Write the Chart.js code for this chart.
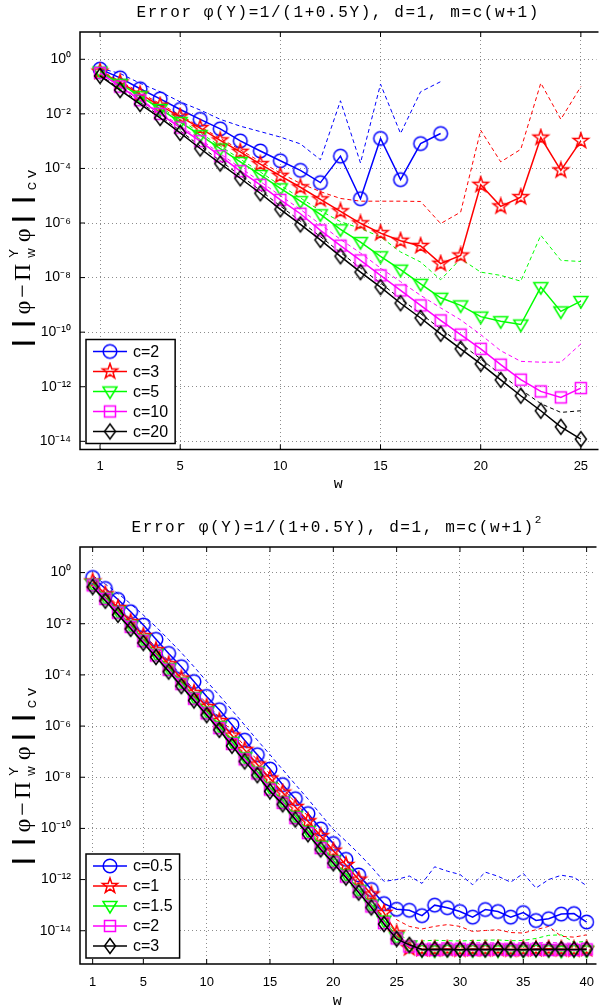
<!DOCTYPE html>
<html>
<head>
<meta charset="utf-8">
<script src="https://cdn.jsdelivr.net/npm/chart.js@4.4.1/dist/chart.umd.min.js"></script>
<style>
  html, body { margin: 0; padding: 0; background: #fff; overflow: hidden; }
  #topBox { position: absolute; left: 0; top: 0; }
  #bottomBox { position: absolute; left: 0; top: 505px; }
</style>
</head>
<body>
<div id="topBox"><canvas id="chartTop" width="605" height="505"></canvas></div>
<div id="bottomBox"><canvas id="chartBottom" width="605" height="505"></canvas></div>
<script>
// values are log10 of the error (y axis shows 10^k)
var wTop = [1,2,3,4,5,6,7,8,9,10,11,12,13,14,15,16,17,18,19,20,21,22,23,24,25];
var wBottom = [1,2,3,4,5,6,7,8,9,10,11,12,13,14,15,16,17,18,19,20,
               21,22,23,24,25,26,27,28,29,30,31,32,33,34,35,36,37,38,39,40];
var xTicksTop = [1,5,10,15,20,25];
var xTicksBottom = [1,5,10,15,20,25,30,35,40];
var yTickExps = [0,-2,-4,-6,-8,-10,-12,-14];

var labelsTop = ['c=2','c=3','c=5','c=10','c=20'];
var labelsBottom = ['c=0.5','c=1','c=1.5','c=2','c=3'];

// m = c(w+1), solid lines with markers
var topC2  = [-0.36,-0.68,-1.08,-1.45,-1.84,-2.20,-2.55,-2.99,-3.36,-3.72,-4.07,-4.52,-3.55,-5.11,-2.90,-4.41,-3.09,-2.72];
var topC3  = [-0.45,-0.85,-1.28,-1.70,-2.10,-2.52,-2.97,-3.39,-3.84,-4.27,-4.69,-5.13,-5.57,-6.01,-6.37,-6.65,-6.84,-7.49,-7.19,-4.60,-5.39,-5.05,-2.87,-4.07,-2.99];
var topC5  = [-0.45,-0.90,-1.35,-1.82,-2.30,-2.78,-3.27,-3.76,-4.24,-4.73,-5.20,-5.68,-6.23,-6.70,-7.22,-7.71,-8.23,-8.74,-9.02,-9.43,-9.60,-9.72,-8.35,-9.24,-8.86];
var topC10 = [-0.50,-1.00,-1.50,-2.00,-2.50,-3.00,-3.55,-4.10,-4.60,-5.15,-5.66,-6.27,-6.83,-7.37,-7.92,-8.47,-9.02,-9.57,-10.09,-10.61,-11.19,-11.74,-12.17,-12.39,-12.05];
var topC20 = [-0.61,-1.13,-1.64,-2.15,-2.70,-3.27,-3.82,-4.36,-4.91,-5.50,-6.05,-6.62,-7.22,-7.80,-8.35,-8.94,-9.48,-10.06,-10.61,-11.16,-11.75,-12.33,-12.88,-13.47,-13.92];
// dashed companions
var topC2Bound  = [-0.33,-0.52,-0.88,-1.19,-1.56,-1.86,-2.20,-2.45,-2.65,-2.85,-3.10,-3.68,-1.52,-3.80,-0.91,-2.72,-1.19,-0.82];
var topC3Bound  = [-0.40,-0.80,-1.22,-1.63,-2.05,-2.47,-2.90,-3.32,-3.75,-4.17,-4.55,-4.85,-5.10,-5.20,-5.20,-5.20,-5.21,-6.02,-5.60,-2.60,-3.76,-3.30,-0.87,-2.20,-1.00];
var topC5Bound  = [-0.42,-0.85,-1.30,-1.75,-2.22,-2.70,-3.18,-3.66,-4.13,-4.62,-5.08,-5.55,-5.95,-6.20,-6.51,-7.06,-7.43,-8.08,-7.31,-7.80,-7.92,-8.13,-6.45,-7.37,-7.41];
var topC10Bound = [-0.48,-0.97,-1.46,-1.95,-2.44,-2.93,-3.46,-3.98,-4.48,-5.00,-5.50,-6.05,-6.60,-7.10,-7.65,-8.15,-8.65,-9.11,-9.55,-10.09,-10.68,-11.07,-11.10,-11.10,-10.43];
var topC20Bound = [-0.58,-1.08,-1.58,-2.08,-2.62,-3.18,-3.72,-4.26,-4.80,-5.38,-5.93,-6.50,-7.08,-7.65,-8.20,-8.78,-9.32,-9.88,-10.42,-10.98,-11.55,-12.10,-12.62,-12.94,-12.88];

// m = c(w+1)^2
var botC05 = [-0.19,-0.62,-1.05,-1.53,-2.05,-2.61,-3.16,-3.68,-4.26,-4.84,-5.36,-5.95,-6.55,-7.12,-7.68,-8.29,-8.84,-9.42,-10.02,-10.59,
              -11.21,-11.82,-12.39,-12.94,-13.16,-13.20,-13.41,-13.00,-13.10,-13.25,-13.47,-13.17,-13.25,-13.47,-13.29,-13.60,-13.53,-13.35,-13.33,-13.66];
var botC1  = [-0.35,-0.85,-1.38,-1.93,-2.48,-3.03,-3.58,-4.14,-4.70,-5.25,-5.80,-6.37,-6.93,-7.50,-8.05,-8.60,-9.16,-9.72,-10.30,-10.87,
              -11.43,-12.00,-12.58,-13.30,-14.10,-14.68,-14.71,-14.72,-14.70,-14.73,-14.71,-14.72,-14.70,-14.73,-14.72,-14.71,-14.70,-14.72,-14.73,-14.71];
var botC15 = [-0.45,-0.98,-1.52,-2.07,-2.62,-3.18,-3.74,-4.30,-4.87,-5.43,-6.00,-6.62,-7.22,-7.78,-8.40,-8.95,-9.52,-10.10,-10.68,-11.25,
              -11.80,-12.40,-12.98,-13.60,-14.25,-14.60,-14.76,-14.77,-14.75,-14.77,-14.76,-14.75,-14.77,-14.76,-14.77,-14.75,-14.76,-14.78,-14.76,-14.77];
var botC2  = [-0.50,-1.03,-1.57,-2.12,-2.68,-3.24,-3.80,-4.36,-4.93,-5.50,-6.08,-6.70,-7.30,-7.85,-8.48,-9.00,-9.60,-10.18,-10.77,-11.32,
              -11.88,-12.47,-13.05,-13.70,-14.30,-14.62,-14.74,-14.75,-14.73,-14.74,-14.75,-14.74,-14.73,-14.75,-14.74,-14.73,-14.75,-14.74,-14.75,-14.73];
var botC3  = [-0.56,-1.10,-1.65,-2.20,-2.75,-3.30,-3.87,-4.44,-5.00,-5.57,-6.15,-6.77,-7.38,-7.92,-8.55,-9.06,-9.65,-10.23,-10.82,-11.36,
              -11.92,-12.51,-13.09,-13.74,-14.32,-14.55,-14.73,-14.72,-14.73,-14.74,-14.72,-14.73,-14.72,-14.73,-14.74,-14.72,-14.73,-14.72,-14.73,-14.72];
var botC05Bound = [-0.12,-0.45,-0.82,-1.22,-1.66,-2.12,-2.62,-3.13,-3.68,-4.25,-4.80,-5.38,-5.96,-6.55,-7.12,-7.70,-8.28,-8.85,-9.45,-10.04,
                   -10.50,-10.98,-11.50,-12.07,-12.00,-11.86,-12.15,-11.50,-11.67,-11.80,-12.20,-11.71,-11.87,-12.10,-11.76,-12.33,-12.00,-11.83,-11.91,-12.24];
var botC1Bound  = [-0.30,-0.78,-1.30,-1.84,-2.38,-2.93,-3.47,-4.02,-4.57,-5.12,-5.66,-6.22,-6.78,-7.33,-7.88,-8.43,-8.98,-9.53,-10.10,-10.66,
                   -11.22,-11.78,-12.35,-12.95,-13.57,-13.83,-13.93,-13.83,-13.76,-13.83,-14.03,-13.99,-13.96,-14.07,-14.09,-13.96,-13.83,-14.22,-14.25,-14.16];
var botC15Bound = [-0.40,-0.92,-1.46,-2.01,-2.56,-3.12,-3.68,-4.24,-4.81,-5.37,-5.94,-6.55,-7.15,-7.72,-8.33,-8.88,-9.45,-10.03,-10.61,-11.18,
                   -11.73,-12.32,-12.90,-13.50,-14.10,-14.38,-14.40,-14.37,-14.39,-14.40,-14.38,-14.37,-14.36,-14.39,-14.38,-14.30,-14.18,-14.16,-14.45,-14.42];
var botC2Bound  = [-0.46,-0.98,-1.52,-2.07,-2.62,-3.18,-3.74,-4.30,-4.86,-5.43,-6.01,-6.62,-7.22,-7.78,-8.40,-8.93,-9.52,-10.10,-10.69,-11.24,
                   -11.80,-12.38,-12.95,-13.58,-14.20,-14.47,-14.49,-14.48,-14.47,-14.49,-14.48,-14.47,-14.48,-14.49,-14.47,-14.48,-14.46,-14.48,-14.49,-14.48];
var botC3Bound  = [-0.52,-1.06,-1.60,-2.15,-2.70,-3.25,-3.82,-4.38,-4.94,-5.51,-6.09,-6.70,-7.31,-7.86,-8.48,-9.00,-9.58,-10.16,-10.75,-11.29,
                   -11.85,-12.44,-13.02,-13.65,-14.22,-14.52,-14.57,-14.58,-14.57,-14.58,-14.57,-14.58,-14.57,-14.58,-14.57,-14.58,-14.57,-14.58,-14.57,-14.58];

var colors = ['#0000ff', '#ff0000', '#00ff00', '#ff00ff', '#000000'];
var shapes = ['circle', 'star', 'triangleDown', 'square', 'diamond'];

// small canvases used as point styles (matlab-like open markers)
function makeMarker(shape, color) {
  var s = 20, m = s / 2;
  var c = document.createElement('canvas');
  c.width = s; c.height = s;
  var g = c.getContext('2d');
  g.strokeStyle = color;
  g.lineWidth = 1.5;
  g.beginPath();
  if (shape == 'circle') {
    g.arc(m, m, 6.8, 0, Math.PI * 2);
  } else if (shape == 'square') {
    g.rect(m - 5.5, m - 5.5, 11, 11);
  } else if (shape == 'diamond') {
    g.moveTo(m, m - 7.5); g.lineTo(m + 5.5, m); g.lineTo(m, m + 7.5); g.lineTo(m - 5.5, m);
    g.closePath();
  } else if (shape == 'triangleDown') {
    g.moveTo(m - 7, m - 4.5); g.lineTo(m + 7, m - 4.5); g.lineTo(m, m + 7);
    g.closePath();
  } else if (shape == 'star') {
    for (var k = 0; k < 10; k++) {
      var a = -Math.PI / 2 + k * Math.PI / 5;
      var r = k % 2 ? 3.2 : 8;
      if (k == 0) g.moveTo(m + r * Math.cos(a), m + r * Math.sin(a));
      else g.lineTo(m + r * Math.cos(a), m + r * Math.sin(a));
    }
    g.closePath();
  }
  g.stroke();
  return c;
}
var markers = shapes.map(function (sh, i) { return makeMarker(sh, colors[i]); });

var SUP = {'0':'⁰','1':'¹','2':'²','3':'³','4':'⁴','5':'⁵','6':'⁶','7':'⁷','8':'⁸','9':'⁹','-':'⁻'};
function tenTo(e) {
  return '10' + String(e).split('').map(function (ch) { return SUP[ch]; }).join('');
}

function points(ws, vals) {
  var out = [];
  for (var i = 0; i < vals.length; i++) out.push({x: ws[i], y: vals[i]});
  return out;
}

function drawNormLabel(ctx, x, y) {
  var segs = [
    {t: '| |', f: 'bold 24px "Liberation Sans"', dy: 0},
    {t: 'φ−Π', f: '24px "Liberation Serif"', dy: 0},
    {t: 'Y', f: '13px "Liberation Sans"', dy: -12, t2: 'w', dy2: 5},
    {t: 'φ', f: '24px "Liberation Serif"', dy: 0},
    {t: '| |', f: 'bold 24px "Liberation Sans"', dy: 0},
    {t: 'cv', f: '15px "Liberation Mono"', dy: 6}
  ];
  ctx.save();
  ctx.translate(x, y);
  ctx.rotate(-Math.PI / 2);
  ctx.fillStyle = '#000';
  ctx.textBaseline = 'alphabetic';
  ctx.textAlign = 'left';
  ctx.letterSpacing = '3px';
  var total = 0;
  segs.forEach(function (s) {
    ctx.font = s.f;
    s.w = ctx.measureText(s.t).width;
    if (s.t2) s.w = Math.max(s.w, ctx.measureText(s.t2).width);
    s.w += 3;
    total += s.w;
  });
  var cx = -total / 2;
  segs.forEach(function (s) {
    ctx.font = s.f;
    ctx.fillText(s.t, cx, s.dy);
    if (s.t2) ctx.fillText(s.t2, cx, s.dy2);
    cx += s.w;
  });
  ctx.restore();
}

var decor = {
  id: 'decor',
  afterDraw: function (chart, args, o) {
    var ctx = chart.ctx, a = chart.chartArea;
    var xs = chart.scales.x, ys = chart.scales.y;
    ctx.save();
    // frame
    ctx.strokeStyle = '#000';
    ctx.lineWidth = 1.5;
    ctx.beginPath();
    ctx.moveTo(a.right + 2, a.top); ctx.lineTo(a.left, a.top);
    ctx.lineTo(a.left, a.bottom); ctx.lineTo(a.right + 2, a.bottom);
    ctx.stroke();
    // inner tick marks
    ctx.lineWidth = 1;
    ctx.beginPath();
    o.xTicks.forEach(function (v) {
      var px = xs.getPixelForValue(v);
      ctx.moveTo(px, a.bottom); ctx.lineTo(px, a.bottom - 5);
      ctx.moveTo(px, a.top); ctx.lineTo(px, a.top + 5);
    });
    yTickExps.forEach(function (v) {
      var py = ys.getPixelForValue(v);
      ctx.moveTo(a.left, py); ctx.lineTo(a.left + 5, py);
    });
    ctx.stroke();

    // title (courier-like, wide)
    ctx.fillStyle = '#000';
    ctx.font = '16px "Liberation Mono"';
    ctx.letterSpacing = '1.6px';
    ctx.textBaseline = 'middle';
    ctx.textAlign = 'left';
    var tw = ctx.measureText(o.title).width;
    var supW = 0;
    if (o.titleSup) { ctx.font = '11px "Liberation Mono"'; supW = ctx.measureText(o.titleSup).width; }
    var tx = (a.left + a.right) / 2 - (tw + supW) / 2;
    ctx.font = '16px "Liberation Mono"';
    ctx.fillText(o.title, tx, o.titleY);
    if (o.titleSup) {
      ctx.font = '11px "Liberation Mono"';
      ctx.fillText(o.titleSup, tx + tw, o.titleY - 8);
    }
    ctx.letterSpacing = '0px';

    drawNormLabel(ctx, 30, o.yLabelY);

    // legend box, bottom-left inside the axes
    var items = chart.data.datasets.filter(function (d) { return d.label; });
    ctx.font = '16px "Liberation Sans"';
    var maxT = 0;
    items.forEach(function (d) { maxT = Math.max(maxT, ctx.measureText(d.label).width); });
    var rowH = 20;
    var bw = 8 + 34 + 6 + maxT + 6;
    var bh = items.length * rowH + 4;
    var bx = a.left + 6, by = a.bottom - 6 - bh;
    ctx.fillStyle = '#fff';
    ctx.fillRect(bx, by, bw, bh);
    ctx.strokeStyle = '#000';
    ctx.lineWidth = 1.5;
    ctx.strokeRect(bx, by, bw, bh);
    items.forEach(function (d, i) {
      var cy = by + 2 + rowH * i + rowH / 2;
      ctx.strokeStyle = d.borderColor;
      ctx.lineWidth = 1.5;
      ctx.beginPath();
      ctx.moveTo(bx + 7, cy); ctx.lineTo(bx + 41, cy);
      ctx.stroke();
      var img = d.pointStyle;
      ctx.drawImage(img, bx + 24 - img.width / 2, cy - img.height / 2);
      ctx.fillStyle = '#000';
      ctx.textBaseline = 'middle';
      ctx.fillText(d.label, bx + 47, cy + 1);
    });
    ctx.restore();
  }
};

function buildChart(id, p) {
  var datasets = [];
  p.series.forEach(function (vals, i) {
    datasets.push({
      label: p.labels[i],
      data: points(p.w, vals),
      borderColor: colors[i],
      borderWidth: 1.5,
      pointStyle: markers[i],
      pointRadius: 7,
      pointHoverRadius: 7,
      fill: false,
      tension: 0,
      order: 5 - i
    });
  });
  p.bounds.forEach(function (vals, i) {
    datasets.push({
      label: '',
      data: points(p.w, vals),
      borderColor: colors[i],
      borderWidth: 1,
      borderDash: [4, 3],
      pointRadius: 0,
      fill: false,
      tension: 0,
      order: 10
    });
  });

  return new Chart(document.getElementById(id), {
    type: 'line',
    data: { datasets: datasets },
    plugins: [decor],
    options: {
      responsive: false,
      animation: false,
      events: [],
      devicePixelRatio: 1,
      layout: { padding: { top: p.areaTop, right: 0, left: 0, bottom: 0 } },
      plugins: {
        legend: { display: false },
        tooltip: { enabled: false },
        title: { display: false },
        decor: { title: p.title, titleSup: p.titleSup, titleY: p.titleY, yLabelY: p.yLabelY, xTicks: p.xTicks }
      },
      scales: {
        x: {
          type: 'linear',
          min: 0,
          max: p.xMax,
          afterBuildTicks: function (s) { s.ticks = p.xTicks.map(function (v) { return {value: v}; }); },
          afterFit: function (s) { s.height = p.xAxisH; },
          grid: { color: '#8c8c8c', lineWidth: 1, drawTicks: false },
          border: { display: false, dash: [1, 3] },
          ticks: { color: '#000', font: { family: 'Liberation Sans', size: 13 }, padding: p.xTickPad, maxRotation: 0,
                   callback: function (v) { return String(v); } },
          title: { display: true, text: 'w', color: '#000', font: { family: 'Liberation Mono', size: 15, lineHeight: 1 },
                   padding: { top: 0, bottom: p.xTitlePad } }
        },
        y: {
          type: 'linear',
          min: p.yMin,
          max: 1,
          afterBuildTicks: function (s) { s.ticks = yTickExps.map(function (v) { return {value: v}; }); },
          afterFit: function (s) { s.width = 80; },
          grid: { color: '#8c8c8c', lineWidth: 1, drawTicks: false },
          border: { display: false, dash: [1, 3] },
          ticks: { color: '#000', font: { family: 'Liberation Sans', size: 14 }, padding: 9,
                   callback: function (v) { return tenTo(v); } }
        }
      }
    }
  });
}

buildChart('chartTop', {
  w: wTop, labels: labelsTop,
  series: [topC2, topC3, topC5, topC10, topC20],
  bounds: [topC2Bound, topC3Bound, topC5Bound, topC10Bound, topC20Bound],
  xTicks: xTicksTop, xMax: 25.78, yMin: -14.3,
  areaTop: 32, xAxisH: 55.5, xTickPad: 9, xTitlePad: 13,
  title: 'Error φ(Y)=1/(1+0.5Y), d=1, m=c(w+1)', titleSup: '', titleY: 13, yLabelY: 255
});

buildChart('chartBottom', {
  w: wBottom, labels: labelsBottom,
  series: [botC05, botC1, botC15, botC2, botC3],
  bounds: [botC05Bound, botC1Bound, botC15Bound, botC2Bound, botC3Bound],
  xTicks: xTicksBottom, xMax: 40.62, yMin: -15.3,
  areaTop: 42, xAxisH: 46, xTickPad: 11, xTitlePad: 1,
  title: 'Error φ(Y)=1/(1+0.5Y), d=1, m=c(w+1)', titleSup: '2', titleY: 23, yLabelY: 268
});
</script>
</body>
</html>
